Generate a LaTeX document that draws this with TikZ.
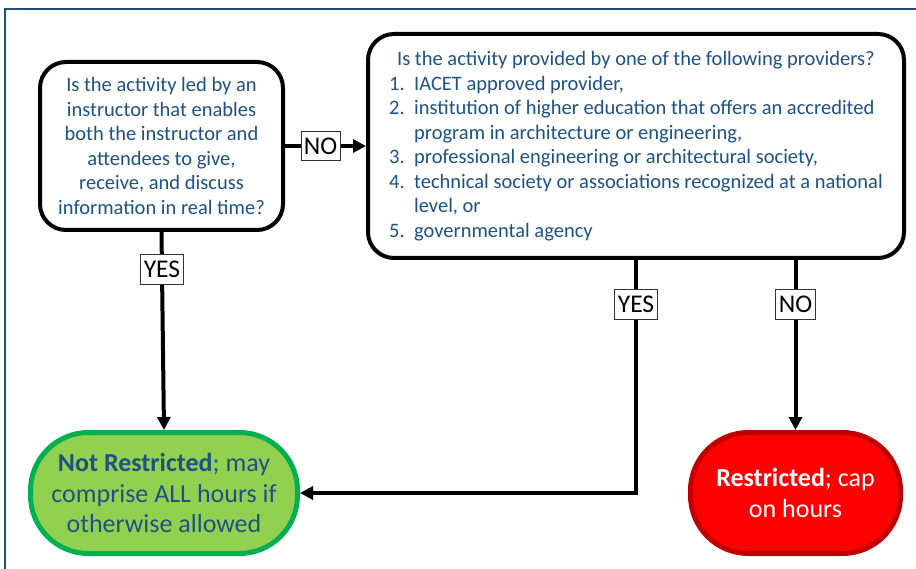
\documentclass[tikz,border=0pt]{standalone}
\usepackage{fontspec}
\setmainfont{Carlito}
\usetikzlibrary{arrows.meta,calc}
\definecolor{txtblue}{RGB}{31,82,130}
\definecolor{framblue}{RGB}{31,78,121}
\definecolor{gfill}{HTML}{92D050}
\definecolor{gline}{HTML}{00B050}
\definecolor{rfill}{HTML}{FF0000}
\definecolor{rline}{HTML}{C00000}
\tikzset{
  qbox/.style={draw=black, line width=4pt, rounded corners=26pt, fill=white,
    text=txtblue, font=\fontsize{20.5}{24.5}\selectfont, inner sep=0pt},
  term/.style={line width=5pt, rounded corners=58pt, inner sep=0pt,
    font=\fontsize{26}{30.5}\selectfont, align=center},
  lbl/.style={draw=black!80, line width=0.8pt, fill=white, inner xsep=3pt, inner ysep=1pt,
    font=\fontsize{25.5}{28}\selectfont, text=black, minimum height=29.5pt},
  conn/.style={line width=4pt, -{Triangle[length=13pt,width=13pt]}},
  plain/.style={line width=4pt}
}
\begin{document}
\begin{tikzpicture}[x=1pt,y=-1pt]
\useasboundingbox (0,0) rectangle (916,569);
\draw[framblue, line width=2pt] (5,575) -- (5,9) -- (925,9);

\node[qbox, minimum width=243pt, minimum height=168pt, align=center] (q1) at (161.5,146)
  {Is the activity led by an\\ instructor that enables\\ both the instructor and\\ attendees to give,\\ receive, and discuss\\ information in real time?};

\node[qbox, minimum width=536pt, minimum height=224pt, align=left] (q2) at (636,146)
  {\hspace*{8pt}Is the activity provided by one of the following providers?\\
   \makebox[25pt][l]{1.}IACET approved provider,\\
   \makebox[25pt][l]{2.}institution of higher education that offers an accredited\\
   \hspace*{25pt}program in architecture or engineering,\\
   \makebox[25pt][l]{3.}professional engineering or architectural society,\\
   \makebox[25pt][l]{4.}technical society or associations recognized at a national\\
   \hspace*{25pt}level, or\\
   \makebox[25pt][l]{5.}governmental agency};

\node[term, draw=gline, fill=gfill, text=txtblue, minimum width=267pt, minimum height=121pt] (ok) at (164,493)
  {\textbf{Not Restricted}; may\\ comprise ALL hours if\\ otherwise allowed};

\node[term, draw=rline, fill=rfill, text=white, minimum width=210pt, minimum height=121pt] (rs) at (795.5,493)
  {\textbf{Restricted}; cap\\ on hours};

\draw[conn] (q1.east) -- node[lbl, pos=0.44] (lno) {NO} (q2.west);
\draw[conn] (q1.south) -- node[lbl, pos=0.19] (lyes) {YES} (ok.north);
\draw[conn] (q2.south) |- node[lbl, pos=0.095] (lyes2) {YES} (ok.east);
\draw[conn] (q2.south -| rs.north) -- node[lbl, pos=0.26] (lno2) {NO} (rs.north);
\end{tikzpicture}
\end{document}
